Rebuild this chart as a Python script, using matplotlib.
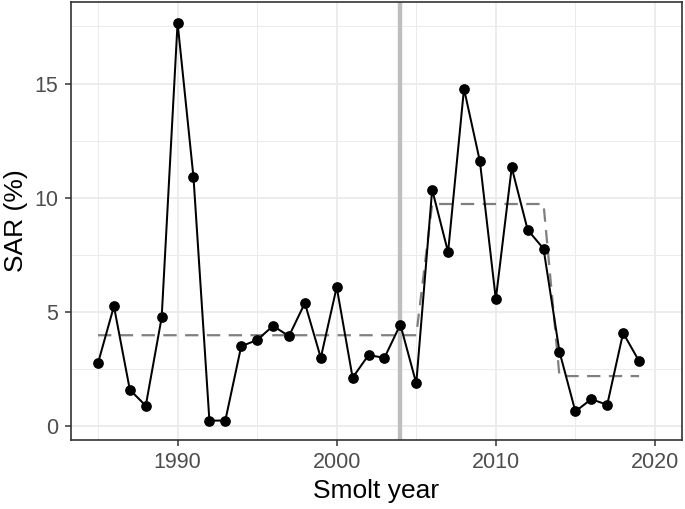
import matplotlib
matplotlib.use("Agg")
import matplotlib.pyplot as plt
from matplotlib.ticker import MultipleLocator

plt.rcParams['font.family'] = ['Liberation Sans', 'DejaVu Sans']

years = list(range(1985, 2020))
sar = [2.75, 5.24, 1.58, 0.88, 4.75, 17.66, 10.89, 0.23, 0.23, 3.49,
       3.76, 4.38, 3.93, 5.38, 2.98, 6.08, 2.11, 3.10, 2.98, 4.44,
       1.86, 10.35, 7.61, 14.77, 11.59, 5.55, 11.32, 8.59, 7.76, 3.25,
       0.63, 1.17, 0.92, 4.07, 2.84]
# segment means (dashed step line), one value per year
seg_mean = [3.97] * 21 + [9.72] * 8 + [2.18] * 6
break_year = 2004

fig = plt.figure(figsize=(6.85, 5.09), dpi=100)
ax = fig.add_axes([0.1036, 0.1356, 0.892, 0.8604])

ax.axvline(break_year, color='#BEBEBE', lw=3.2, zorder=2)
ax.plot(years, seg_mean, ls=(0, (6, 3.8)), color='#7F7F7F', lw=1.6, zorder=3)
ax.plot(years, sar, color='black', lw=1.45, marker='o', ms=6.7, zorder=4)

ax.set_xlim(1983.3, 2021.7)
ax.set_ylim(-0.62, 18.57)
ax.xaxis.set_major_locator(MultipleLocator(10))
ax.xaxis.set_minor_locator(MultipleLocator(5))
ax.yaxis.set_major_locator(MultipleLocator(5))
ax.yaxis.set_minor_locator(MultipleLocator(2.5))

ax.grid(which='major', color='#EBEBEB', lw=1.3, zorder=0)
ax.grid(which='minor', color='#EBEBEB', lw=0.7, zorder=0)
ax.set_axisbelow(True)

for s in ax.spines.values():
    s.set_color('#333333')
    s.set_linewidth(1.2)

ax.tick_params(which='major', length=4, width=1.1, color='#333333',
               labelsize=15.5, labelcolor='#4D4D4D')
ax.tick_params(axis='x', which='major', pad=5)
ax.tick_params(axis='y', which='major', pad=5)
ax.tick_params(which='minor', length=0)

ax.set_xlabel('Smolt year', fontsize=19, color='black', labelpad=4)
ax.set_ylabel('SAR (%)', fontsize=19, color='black', labelpad=5)

fig.savefig('out.png', dpi=100)
